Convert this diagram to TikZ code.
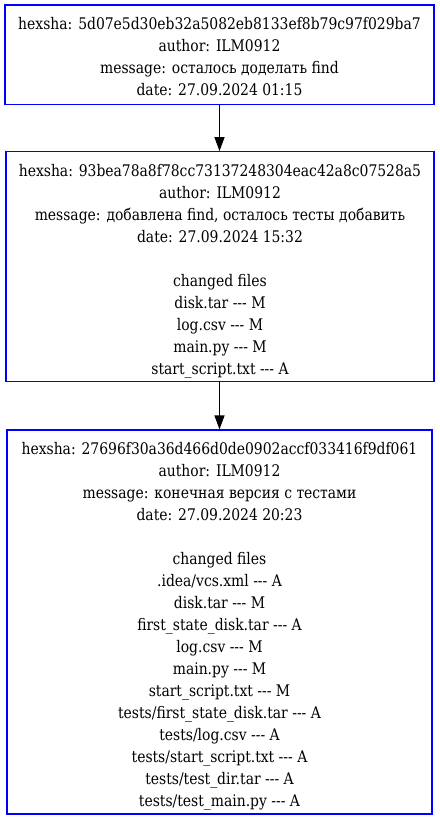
\documentclass[tikz,border=0pt]{standalone}
\usepackage{fontspec}
\setmainfont{DejaVu Serif}[FakeStretch=0.87]
\newcommand\ddd{-\kern0pt-\kern0pt-}
\usetikzlibrary{arrows.meta}
\begin{document}
\begin{tikzpicture}[x=1pt,y=1pt,
  commit/.style={draw=blue, line width=1.2pt, inner sep=0pt},
  label text/.style={align=center, inner sep=0pt,
    font=\rmfamily\fontsize{16}{22}\selectfont},
  link/.style={line width=1.2pt, -{Triangle[length=14pt,width=10pt]}}]
\useasboundingbox (0,0) rectangle (439,-819);
\node[commit, minimum width=429pt, minimum height=99.5pt] (c1) at (219.5,-54.75) {};
\node[label text, yshift=-2pt] (t1) at (c1.center)
  {hexsha: 5d07e5d30eb32a5082eb8133ef8b79c97f029ba7\\
   author: ILM0912\\
   message: осталось доделать find\\
   date: 27.09.2024 01:15};
\node[commit, minimum width=428pt, minimum height=230pt] (c2) at (220,-266.7) {};
\node[label text, yshift=-5pt] (t2) at (c2.center)
  {hexsha: 93bea78a8f78cc73137248304eac42a8c07528a5\\
   author: ILM0912\\
   message: добавлена find, осталось тесты добавить\\
   date: 27.09.2024 15:32\\
   \\
   changed files\\
   disk.tar \ddd{} M\\
   log.csv \ddd{} M\\
   main.py \ddd{} M\\
   start\_script.txt \ddd{} A};
\node[commit, minimum width=425pt, minimum height=384pt] (c3) at (219.5,-622) {};
\node[label text, yshift=-4pt] (t3) at (c3.center)
  {hexsha: 27696f30a36d466d0de0902accf033416f9df061\\
   author: ILM0912\\
   message: конечная версия с тестами\\
   date: 27.09.2024 20:23\\
   \\
   changed files\\
   .idea/vcs.xml \ddd{} A\\
   disk.tar \ddd{} M\\
   first\_state\_disk.tar \ddd{} A\\
   log.csv \ddd{} M\\
   main.py \ddd{} M\\
   start\_script.txt \ddd{} M\\
   tests/first\_state\_disk.tar \ddd{} A\\
   tests/log.csv \ddd{} A\\
   tests/start\_script.txt \ddd{} A\\
   tests/test\_dir.tar \ddd{} A\\
   tests/test\_main.py \ddd{} A};
\draw[link] (c1.south -| 219.5,0) -- (c2.north -| 219.5,0);
\draw[link] (c2.south -| 219.5,0) -- (c3.north -| 219.5,0);
\end{tikzpicture}
\end{document}
